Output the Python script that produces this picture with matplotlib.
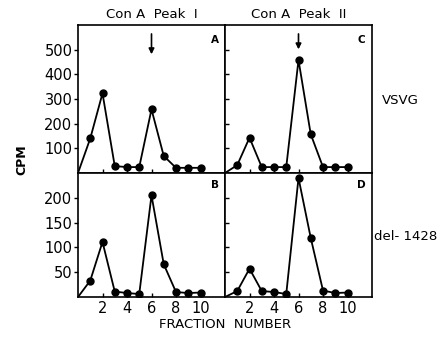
import matplotlib
matplotlib.use("Agg")
import matplotlib.pyplot as plt

fractions = [0, 1, 2, 3, 4, 5, 6, 7, 8, 9, 10]
vsvg_peak1 = [0, 140, 323, 28, 24, 24, 258, 69, 21, 21, 21]
vsvg_peak2 = [0, 32, 143, 24, 24, 24, 458, 157, 24, 24, 24]
del_peak1 = [0, 33, 111, 11, 8, 6, 205, 66, 10, 8, 9]
del_peak2 = [0, 12, 57, 12, 10, 6, 240, 119, 13, 8, 9]

top_ticks = [100, 200, 300, 400, 500]
bottom_ticks = [50, 100, 150, 200]
x_ticks = [2, 4, 6, 8, 10]
col_titles = ["Con A  Peak  I", "Con A  Peak  II"]
row_labels = ["VSVG", "del- 1428"]
panel_letters = [["A", "C"], ["B", "D"]]
arrow_x = 6
arrow_start = 575
arrow_ends = [470, 490]

plt.rcParams['font.family'] = ['DejaVu Sans']
fig = plt.figure(figsize=(4.48, 3.37), dpi=100)

W, H = 448, 337
def pos(x0, y0, x1, y1):
    return [x0 / W, 1 - y1 / H, (x1 - x0) / W, (y1 - y0) / H]

axA = fig.add_axes(pos(78, 25, 225, 173))
axC = fig.add_axes(pos(225, 25, 372, 173))
axB = fig.add_axes(pos(78, 173, 225, 297))
axD = fig.add_axes(pos(225, 173, 372, 297))

grid = [[(axA, vsvg_peak1), (axC, vsvg_peak2)], [(axB, del_peak1), (axD, del_peak2)]]

for r, row in enumerate(grid):
    for c, (ax, vals) in enumerate(row):
        ax.plot(fractions, vals, color='black', lw=1.3, marker='o', ms=5,
                markevery=list(range(1, len(fractions))))
        ax.set_xlim(0, 12)
        if r == 0:
            ax.set_ylim(0, 600)
            ax.set_yticks(top_ticks)
        else:
            ax.set_ylim(0, 250)
            ax.set_yticks(bottom_ticks)
        ax.set_xticks(x_ticks)
        ax.tick_params(axis='x', direction='in', length=3, width=1)
        if c == 0:
            ax.tick_params(axis='y', direction='out', length=3, width=1,
                           labelsize=10.5, pad=1)
        else:
            ax.tick_params(axis='y', direction='in', length=3, width=1)
            ax.set_yticklabels([])
        if r == 0:
            ax.set_xticklabels([])
        else:
            ax.tick_params(axis='x', labelsize=10.5, pad=3)
        for s in ax.spines.values():
            s.set_linewidth(1.2)
        ax.text(0.93, 0.9, panel_letters[r][c], transform=ax.transAxes,
                ha='center', va='center', fontsize=7.5, fontweight='bold')

for ax, end in [(axA, arrow_ends[0]), (axC, arrow_ends[1])]:
    ax.annotate('', xy=(arrow_x, end), xytext=(arrow_x, arrow_start),
                arrowprops=dict(arrowstyle='-|>', color='black', lw=1.2,
                                mutation_scale=8))

axA.set_title(col_titles[0], fontsize=9.5, pad=5)
axC.set_title(col_titles[1], fontsize=9.5, pad=5)

fig.text(400 / W, 1 - 100 / H, row_labels[0], ha='center', va='center', fontsize=9.5)
fig.text(406 / W, 1 - 236 / H, row_labels[1], ha='center', va='center', fontsize=9.5)
fig.text(22 / W, 1 - 160 / H, "CPM", rotation=90, ha='center', va='center',
         fontsize=9, fontweight='bold')
fig.text(225 / W, 1 - 325 / H, "FRACTION  NUMBER", ha='center', va='center',
         fontsize=9.5)

fig.savefig("out.png", dpi=100)
